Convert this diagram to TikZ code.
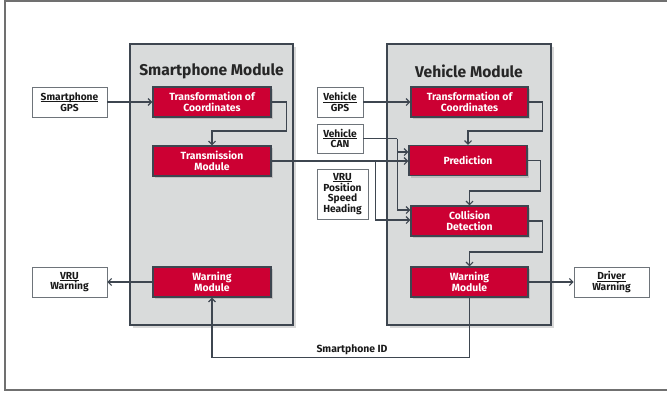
\documentclass[tikz,border=0pt]{standalone}
\usepackage{fontspec}
\setmainfont{Fira Sans}
\usetikzlibrary{arrows.meta,shadows,calc}
\definecolor{brandred}{RGB}{204,0,51}
\definecolor{slate}{RGB}{62,70,80}
\definecolor{panel}{RGB}{217,219,219}
\definecolor{framegray}{RGB}{112,112,112}
\definecolor{extedge}{RGB}{110,116,122}
\newcommand{\uword}[1]{\setbox0\hbox{#1}\rlap{\rule[-1.6pt]{\wd0}{0.7pt}}\box0}
\begin{document}
\begin{tikzpicture}[x=1pt,y=-1pt,
  module/.style={draw=slate,line width=2pt,fill=panel,inner sep=0pt,
    drop shadow={shadow xshift=2.5pt,shadow yshift=-2.5pt,opacity=0.3}},
  title/.style={font=\bfseries\fontsize{15.6}{17}\selectfont,text=black!85},
  redbox/.style={draw=slate,line width=1.4pt,fill=brandred,text=white,
    font=\bfseries\fontsize{10.4}{10.8}\selectfont,align=center,inner sep=0pt,
    minimum width=118pt,minimum height=30pt,
    drop shadow={shadow xshift=2pt,shadow yshift=-2pt,opacity=0.3}},
  extbox/.style={draw=extedge,line width=0.7pt,fill=white,text=black!90,
    font=\bfseries\fontsize{10.2}{10.8}\selectfont,align=center,inner sep=0pt,
    minimum height=30pt},
  conn/.style={draw=slate,line width=1.1pt,
    -{Straight Barb[length=3.5pt,width=7pt,line width=1.1pt]}},
  wire/.style={draw=slate,line width=1.1pt}
]
\useasboundingbox (0,0) rectangle (667,397);
% outer frame (open to the right)
\draw[framegray,line width=1.4pt] (672,1) -- (5,1) -- (5,390) -- (672,390);

% module panels
\node[module,minimum width=163pt,minimum height=281pt] (smod) at (211.5,184.5) {};
\node[module,minimum width=164pt,minimum height=281pt] (vmod) at (469,184.5) {};
\node[title] (stitle) at (211.5,71) {Smartphone Module};
\node[title] (vtitle) at (469,71) {Vehicle Module};

% smartphone module blocks
\node[redbox] (sT)  at (212,102) {Transformation of\\Coordinates};
\node[redbox] (sTx) at (212,161) {Transmission\\Module};
\node[redbox] (sW)  at (212,282) {Warning\\Module};

% vehicle module blocks
\node[redbox,minimum width=117pt] (vT) at (469.5,102) {Transformation of\\Coordinates};
\node[redbox] (vP) at (468,160.5) {Prediction};
\node[redbox,minimum width=117pt] (vC) at (469.5,221) {Collision\\Detection};
\node[redbox,minimum width=117pt] (vW) at (469.5,282) {Warning\\Module};

% inputs and outputs
\node[extbox,minimum width=75pt] (sGPS) at (69.5,102) {\uword{Smartphone}\\GPS};
\node[extbox,minimum width=75pt] (vruW) at (69.5,282) {\uword{VRU}\\Warning};
\node[extbox,minimum width=46pt] (vGPS) at (340,102) {\uword{Vehicle}\\GPS};
\node[extbox,minimum width=46pt,minimum height=29pt] (vCAN) at (340,138.5) {\uword{Vehicle}\\CAN};
\node[extbox,minimum width=51pt,minimum height=50pt] (vru) at (342.5,194) {\uword{VRU}\\Position\\Speed\\Heading};
\node[extbox,minimum width=75pt] (drvW) at (611.5,282) {\uword{Driver}\\Warning};

% smartphone side flow
\draw[conn] (sGPS) -- (sT);
\draw[conn] (sT.east) -- ++(15,0) -- ++(0,29) -| (sTx.north);
\draw[conn] (sW.west) -- (vruW.east);

% transmission to vehicle module
\coordinate (tj) at ($(sTx.east)+(104,0)$);
\draw[conn] (sTx.east) -- (sTx.east -| vP.west);
\draw[conn] (tj) |- ($(vC.west)+(0,-1)$);

% vehicle CAN
\coordinate (cj) at ($(vCAN.east)+(34,0)$);
\draw[wire] (vCAN.east) -- (cj);
\draw[conn] (cj) |- ($(vC.west)+(0,-11)$);
\draw[conn] (cj |- vP.west) ++(0,-8.5) -- ($(vP.west)+(0,-8.5)$);

% vehicle side flow
\draw[conn] (vGPS) -- (vT);
\draw[conn] (vT.east) -- ++(14,0) -- ++(0,29) -| (vP.north);
\draw[conn] (vP.east) -- ++(13,0) -- ++(0,30.5) -| (vC.north);
\draw[conn] (vC.east) -- ++(14,0) -- ++(0,31) -| (vW.north);
\draw[conn] (vW.east) -- (drvW.west);
\draw[conn] (vW.south) -- ++(0,60) -| (sW.south);
\node[font=\bfseries\fontsize{10.4}{12}\selectfont,text=black!90] (sid) at (352,349.5) {Smartphone ID};
\end{tikzpicture}
\end{document}
